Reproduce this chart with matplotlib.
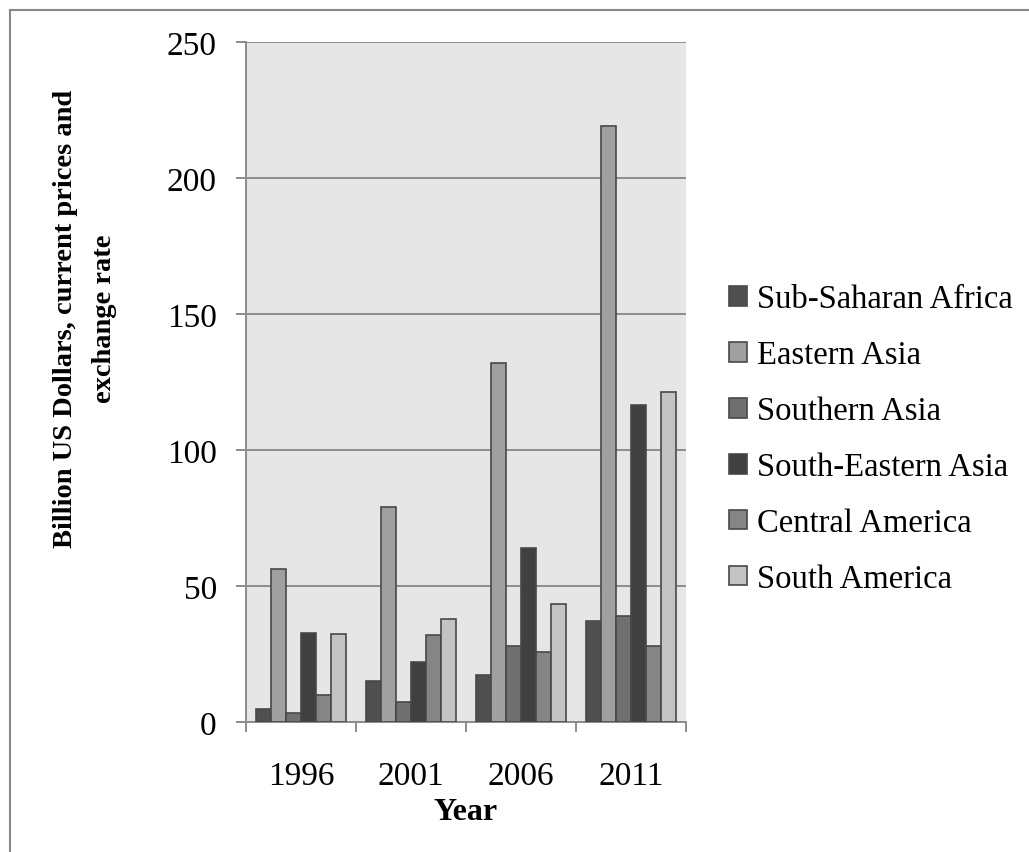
import numpy as np
import matplotlib
matplotlib.use("Agg")
import matplotlib.pyplot as plt
from matplotlib.lines import Line2D

# data (billion US$)
years = ['1996', '2001', '2006', '2011']
regions = ['Sub-Saharan Africa', 'Eastern Asia', 'Southern Asia',
           'South-Eastern Asia', 'Central America', 'South America']
sub_saharan_africa = [4.6, 15.2, 17.1, 37.0]
eastern_asia       = [56.1, 79.0, 132.0, 219.0]
southern_asia      = [3.3, 7.4, 27.8, 38.8]
south_eastern_asia = [32.8, 22.1, 64.0, 116.7]
central_america    = [10.1, 32.0, 25.8, 27.8]
south_america      = [32.5, 37.7, 43.5, 121.5]
series = [sub_saharan_africa, eastern_asia, southern_asia,
          south_eastern_asia, central_america, south_america]
colors = ['#505050', '#a0a0a0', '#707070', '#404040', '#858585', '#c3c3c3']

plt.rcParams['font.family'] = ['Liberation Serif', 'DejaVu Serif']

fig = plt.figure(figsize=(10.29, 8.53), dpi=100)
ax = fig.add_axes([246/1029, 1 - 723/853, 440/1029, 680/853])
ax.set_facecolor('#e6e6e6')

x = np.arange(len(years))
w = 0.135
for i, (vals, c, name) in enumerate(zip(series, colors, regions)):
    ax.bar(x + (i - 2.5)*w, vals, w, color=c, edgecolor='#484848',
           lw=1.2, label=name, zorder=3)

ax.set_xlim(-0.5, 3.5)
ax.set_ylim(0, 250)
ax.set_yticks([0, 50, 100, 150, 200, 250])
ax.grid(True, axis='y', color='#8c8c8c', lw=1.4, zorder=1)
ax.set_xticks(x)
ax.set_xticklabels(years)
ax.set_xticks(np.arange(-0.5, 4, 1), minor=True)
ax.tick_params(axis='x', which='major', length=0, pad=28, labelsize=24)
ax.tick_params(axis='x', which='minor', length=7, width=1.4, color='#8c8c8c')
ax.tick_params(axis='y', length=7, width=1.4, color='#8c8c8c', pad=14, labelsize=24)
for s in ['top', 'right']:
    ax.spines[s].set_visible(False)
for s in ['left', 'bottom']:
    ax.spines[s].set_color('#8c8c8c')
    ax.spines[s].set_linewidth(1.4)

ax.set_xlabel('Year', fontsize=23, fontweight='bold', labelpad=4)
# axis title sits above the axes centre, as in the original
fig.text(85/1029, 1 - 319/853, 'Billion US Dollars, current prices and\nexchange rate',
         rotation=90, ha='center', va='center', multialignment='center',
         fontsize=20.5, fontweight='bold', linespacing=1.75)

fig.legend(loc='center left', bbox_to_anchor=(729/1029, 1 - 440/853),
           frameon=False, fontsize=23.5, handlelength=0.55, handleheight=0.55,
           handletextpad=0.3, labelspacing=0.78, borderpad=0, borderaxespad=0)

# outer frame (top and left edges only visible)
fig.add_artist(Line2D([10/1029, 1], [1 - 11/853, 1 - 11/853], color='#888888', lw=1.5))
fig.add_artist(Line2D([10/1029, 10/1029], [0, 1 - 11/853], color='#888888', lw=1.5))

fig.savefig('out.png', dpi=100)
